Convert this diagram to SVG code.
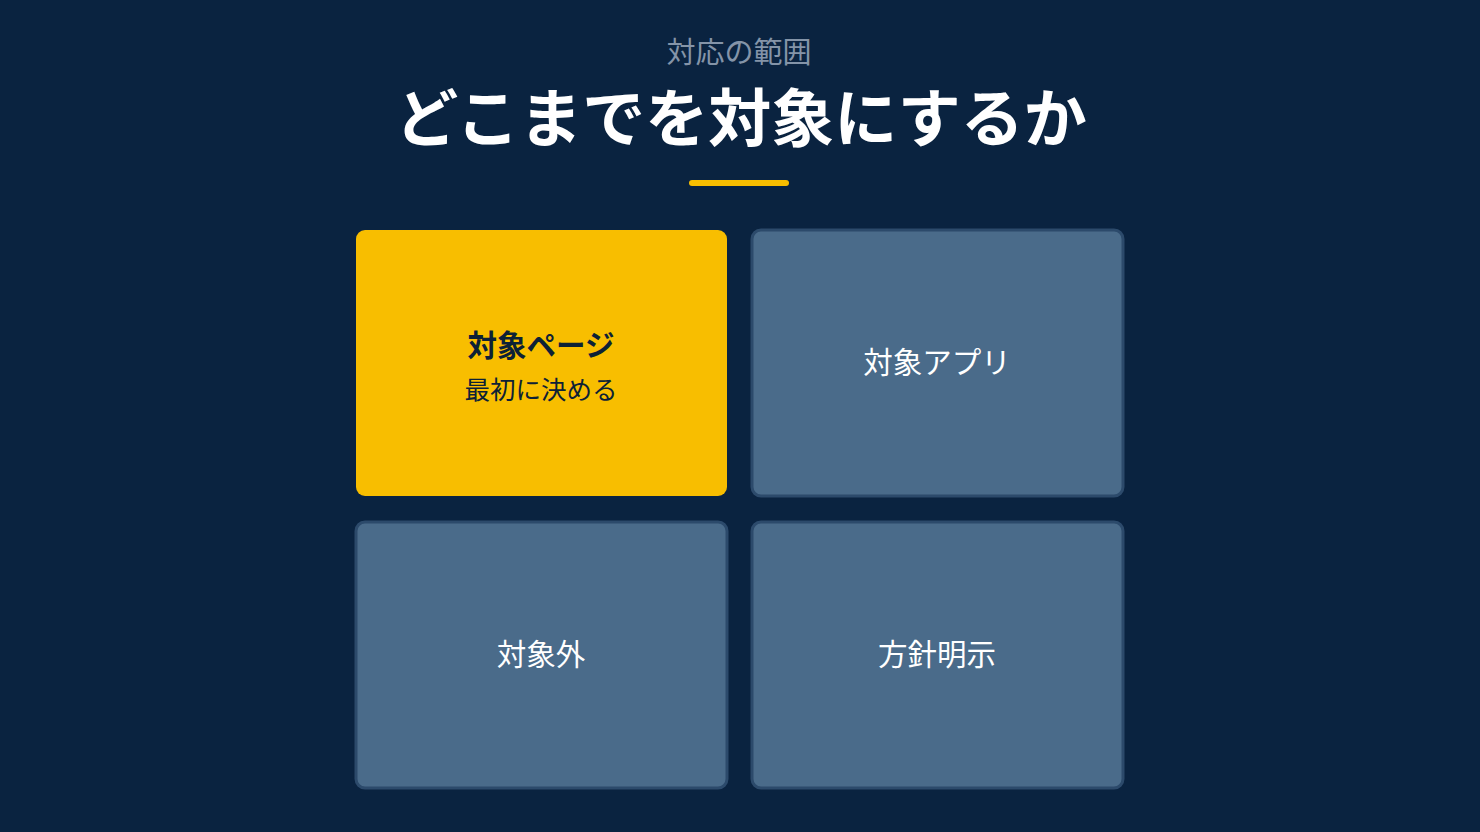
<svg xmlns="http://www.w3.org/2000/svg" width="1480" height="832" viewBox="0 0 1480 832">
<style>
text{font-family:"Noto Sans CJK JP","Noto Sans",sans-serif;text-anchor:middle}
.card{fill:#4a6b8a;stroke:#2c4a6b;stroke-width:3}
.lbl{fill:#ffffff;font-size:29.5px}
</style>
<rect x="0" y="0" width="1480" height="832" fill="#0a2340"/>
<text x="739" y="63" font-size="29" fill="#8494a8">対応の範囲</text>
<text x="741" y="141" font-size="63" font-weight="700" fill="#ffffff">どこまでを対象にするか</text>
<rect x="689" y="180" width="100" height="6" rx="3" fill="#f8be00"/>
<g id="node-page">
<rect x="356" y="230" width="371" height="266" rx="9" fill="#f8be00"/>
<text x="541" y="356" font-size="29.5" font-weight="700" fill="#0d2136">対象ページ</text>
<text x="541" y="399" font-size="25.5" fill="#0d2136">最初に決める</text>
</g>
<g id="node-app">
<rect class="card" x="752" y="230" width="371" height="266" rx="9"/>
<text class="lbl" x="937" y="373">対象アプリ</text>
</g>
<g id="node-out">
<rect class="card" x="356" y="522" width="371" height="266" rx="9"/>
<text class="lbl" x="541" y="665">対象外</text>
</g>
<g id="node-policy">
<rect class="card" x="752" y="522" width="371" height="266" rx="9"/>
<text class="lbl" x="937" y="665">方針明示</text>
</g>
<g id="connectors"/>
</svg>
